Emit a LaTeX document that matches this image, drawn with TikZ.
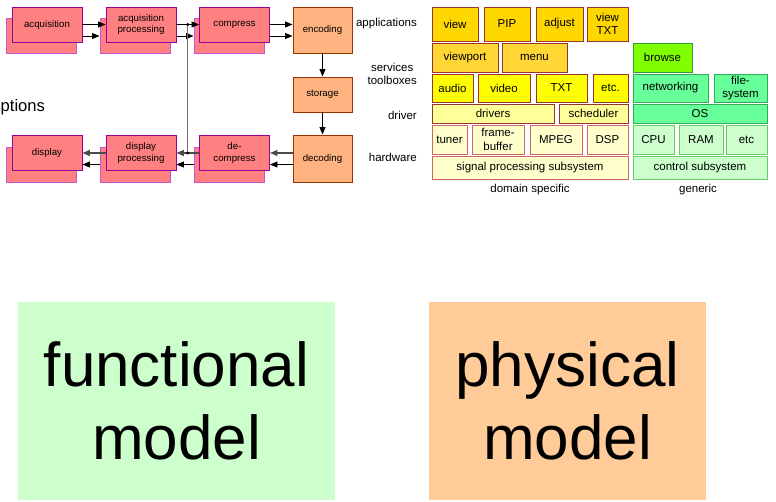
\documentclass[tikz,border=0pt]{standalone}
\usepackage{fontspec}
\setmainfont{Liberation Sans}
\usetikzlibrary{arrows.meta,calc}
\definecolor{pinkfill}{HTML}{FF8080}
\definecolor{pinkdraw}{HTML}{990099}
\definecolor{pinkback}{HTML}{CC55CC}
\definecolor{orfill}{HTML}{FFB380}
\definecolor{ordraw}{HTML}{993300}
\definecolor{goldfill}{HTML}{FFD700}
\definecolor{goldtwo}{HTML}{FFD633}
\definecolor{yelone}{HTML}{FFFF00}
\definecolor{yeltwo}{HTML}{FFFF99}
\definecolor{yelthree}{HTML}{FFFFCC}
\definecolor{reddraw}{HTML}{993333}
\definecolor{lreddraw}{HTML}{CC6666}
\definecolor{limefill}{HTML}{80FF00}
\definecolor{limedraw}{HTML}{339933}
\definecolor{grntwo}{HTML}{66FF99}
\definecolor{grntwodraw}{HTML}{33AA55}
\definecolor{grnthree}{HTML}{CCFFCC}
\definecolor{grnthreedraw}{HTML}{66CC66}
\definecolor{peach}{HTML}{FFCC99}
\newcommand\rbox[7]{%
  \pgfmathsetmacro\rbcx{(#3+#5)/2}%
  \pgfmathsetmacro\rbcy{(#4+#6)/2}%
  \pgfmathsetmacro\rbw{#5-#3}%
  \pgfmathsetmacro\rbh{#6-#4}%
  \node[#1, minimum width=\rbw pt, minimum height=\rbh pt] (#2) at (\rbcx,\rbcy) {#7};}
\tikzset{
  every node/.style={inner sep=0pt, align=center},
  sm/.style={font=\fontsize{9.7}{11.3}\selectfont},
  md/.style={font=\fontsize{11.5}{13.5}\selectfont},
  big/.style={font=\fontsize{62}{73}\selectfont},
  pbase/.style={fill=pinkfill, line width=0.9pt, minimum width=70pt, minimum height=35pt},
  pfront/.style={pbase, sm, draw=pinkdraw},
  pback/.style={pbase, draw=pinkback},
  orbox/.style={sm, fill=orfill, draw=ordraw, line width=0.9pt},
  blk/.style={md, line width=0.9pt},
  gd/.style={blk, fill=goldfill, draw=reddraw},
  gdtwo/.style={blk, fill=goldtwo, draw=reddraw},
  yl/.style={blk, fill=yelone, draw=reddraw},
  yltwo/.style={blk, fill=yeltwo, draw=reddraw},
  ylthree/.style={blk, fill=yelthree, draw=lreddraw},
  lm/.style={blk, fill=limefill, draw=limedraw},
  gn/.style={blk, fill=grntwo, draw=grntwodraw},
  gnthree/.style={blk, fill=grnthree, draw=grnthreedraw},
  arr/.style={-{Triangle[length=7.5pt,width=6pt]}, line width=0.9pt, black},
  garr/.style={-{Triangle[length=7.5pt,width=6pt]}, line width=1.3pt, black!70},
  lbl/.style={md, anchor=east},
}
\begin{document}
\begin{tikzpicture}[x=1pt,y=-1pt]
\clip (0,0) rectangle (776,502);
\fill[white] (0,0) rectangle (776,502);

% left fragment
\node[anchor=base west, font=\fontsize{16.6}{20}\selectfont] (opt) at (0.5,112) {ptions};

% functional pipeline
\node[pback] (acqb) at (41,36) {};
\node[pfront] (acq) at (47,24.5) {acquisition};
\node[pback] (acqpb) at (135,36) {};
\node[pfront] (acqp) at (141,24.5) {acquisition\\processing};
\node[pback] (compb) at (229,36) {};
\node[pfront] (comp) at (234.5,24.5) {compress};

\node[pback] (dispb) at (41,164.5) {};
\node[pfront] (disp) at (47,153) {display};
\node[pback] (disppb) at (135,164.5) {};
\node[pfront] (dispp) at (141,153) {display\\processing};
\node[pback] (decompb) at (229,164.5) {};
\node[pfront] (decomp) at (234.5,153) {de-\\compress};

\rbox{orbox}{enc}{293}{7}{352}{53}{encoding}
\rbox{orbox}{stor}{293}{77}{352}{112}{storage}
\rbox{orbox}{dec}{293}{135}{352}{182}{decoding}

\draw[arr] (acq.east) -- (acqp.west);
\draw[arr] (acq.east |- acqpb) -- (acqpb.west);
\draw[arr] (acqp.east) -- (comp.west);
\draw[arr] (acqp.east |- compb) -- (compb.west);
\draw[arr] (comp.east) -- (enc.west |- comp);
\draw[arr] (comp.east |- compb) -- (enc.west |- compb);
\draw[arr] (enc.south) -- (stor.north);
\draw[arr] (stor.south) -- (dec.north);
\draw[garr] (dec.west |- decomp) -- (decomp.east);
\draw[arr] (dec.west |- decompb) -- (decomp.east |- decompb);
\coordinate (j1) at ($(acqp.east)!0.5!(comp.west)$);
\coordinate (j2) at (j1 |- dispp.east);
\draw[line width=1.3pt, black!55] (j1) -- (j2);
\draw[garr] (decomp.west) -- (dispp.east);
\draw[arr] (decompb.west) -- (dispp.east |- decompb);
\draw[garr] (dispp.west) -- (disp.east);
\draw[arr] (disppb.west) -- (disp.east |- disppb);
\fill[black] (j1) circle (1.6pt);
\fill[black] (j2) circle (1.6pt);

% layer labels
\node[lbl] (lapp) at (417,24) {applications};
\node[lbl] (lserv) at (417,74) {services\\toolboxes};
\node[lbl] (ldrv) at (417,115) {driver};
\node[lbl] (lhw) at (417,157) {hardware};

% physical stack
\rbox{gd}{view}{432}{7}{478}{41}{view}
\rbox{gd}{pip}{484}{7}{530}{41}{PIP}
\rbox{gd}{adjust}{536}{7}{583}{41}{adjust}
\rbox{gd}{viewtxt}{587}{7}{628}{41}{view\\TXT}

\rbox{gdtwo}{viewport}{432}{43}{498}{72}{viewport}
\rbox{gdtwo}{menu}{502}{43}{567}{72}{menu}
\rbox{lm}{browse}{633}{43}{692}{72}{browse}

\rbox{yl}{audio}{432}{74}{473}{102}{audio}
\rbox{yl}{video}{478}{74}{530}{102}{video}
\rbox{yl}{txt}{536}{74}{587}{102}{TXT}
\rbox{yl}{etca}{593}{74}{628}{102}{etc.}
\rbox{gn}{netw}{633}{74}{708}{102}{networking}
\rbox{gn}{fsys}{714}{74}{767}{102}{file-\\system}

\rbox{yltwo}{drivers}{432}{104}{554}{123}{drivers}
\rbox{yltwo}{sched}{559}{104}{628}{123}{scheduler}
\rbox{gn}{os}{633}{104}{767}{123}{OS}

\rbox{ylthree}{tuner}{432}{125}{467}{154}{tuner}
\rbox{ylthree}{fbuf}{472}{125}{524}{154}{frame-\\buffer}
\rbox{ylthree}{mpeg}{530}{125}{582}{154}{MPEG}
\rbox{ylthree}{dsp}{587}{125}{628}{154}{DSP}
\rbox{gnthree}{cpu}{633}{125}{674}{154}{CPU}
\rbox{gnthree}{ram}{679}{125}{723}{154}{RAM}
\rbox{gnthree}{etcb}{726}{125}{767}{154}{etc}

\rbox{ylthree}{sps}{432}{156}{628}{179}{signal processing subsystem}
\rbox{gnthree}{cs}{633}{156}{767}{179}{control subsystem}

\node[md] (dspec) at (530,190) {domain specific};
\node[md] (gen) at (698,190) {generic};

% big labels
\rbox{big, fill=grnthree}{func}{18}{302}{335}{500}{functional\\model}
\rbox{big, fill=peach}{phys}{429}{302}{706}{500}{physical\\model}
\end{tikzpicture}
\end{document}
